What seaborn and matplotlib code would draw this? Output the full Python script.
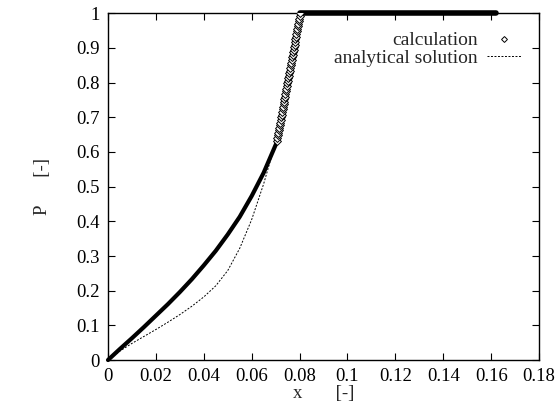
import matplotlib
matplotlib.use("Agg")
import matplotlib.pyplot as plt
import pandas as pd
import seaborn as sns
from matplotlib.lines import Line2D

# calculation: smooth rising part (dense points -> looks like a thick line)
calc_x = [0.0, 0.005, 0.010, 0.015, 0.020, 0.025, 0.030, 0.035, 0.040,
          0.045, 0.050, 0.055, 0.060, 0.065, 0.0703]
calc_p = [0.0, 0.032, 0.063, 0.095, 0.128, 0.161, 0.196, 0.233, 0.273,
          0.315, 0.362, 0.413, 0.473, 0.540, 0.625]

# calculation: steep part where single diamonds are visible
steep_x = [0.0705, 0.0707, 0.0709, 0.0711, 0.0713, 0.0715, 0.0717, 0.0719,
           0.0721, 0.0723, 0.0725, 0.0727, 0.0729, 0.0731, 0.0733, 0.0735,
           0.0737, 0.0739, 0.0741, 0.0743, 0.0745, 0.0747, 0.0749, 0.0751,
           0.0753, 0.0755, 0.0757, 0.0759, 0.0761, 0.0763, 0.0765, 0.0767,
           0.0769, 0.0771, 0.0773, 0.0775, 0.0777, 0.0779, 0.0781, 0.0783,
           0.0785, 0.0787, 0.0789, 0.0791, 0.0793, 0.0795, 0.0797, 0.0799,
           0.0801, 0.0803]
steep_p = [0.633, 0.640, 0.648, 0.655, 0.663, 0.670, 0.678, 0.685,
           0.693, 0.700, 0.708, 0.715, 0.723, 0.730, 0.738, 0.745,
           0.753, 0.760, 0.768, 0.775, 0.783, 0.790, 0.798, 0.805,
           0.813, 0.820, 0.828, 0.835, 0.843, 0.850, 0.858, 0.865,
           0.873, 0.880, 0.888, 0.895, 0.903, 0.910, 0.918, 0.925,
           0.933, 0.940, 0.948, 0.955, 0.963, 0.970, 0.978, 0.985,
           0.993, 1.000]

# calculation: saturated plateau
flat_x = [0.0803, 0.090, 0.100, 0.110, 0.120, 0.130, 0.140, 0.150, 0.162]
flat_p = [1.0, 1.0, 1.0, 1.0, 1.0, 1.0, 1.0, 1.0, 1.0]

# analytical solution
ana_x = [0.0, 0.005, 0.010, 0.015, 0.020, 0.025, 0.030, 0.035, 0.040,
         0.045, 0.050, 0.055, 0.060, 0.065, 0.070, 0.072, 0.076, 0.080, 0.162]
ana_p = [0.0, 0.026, 0.048, 0.068, 0.088, 0.109, 0.131, 0.155, 0.182,
         0.214, 0.258, 0.322, 0.405, 0.508, 0.627, 0.690, 0.845, 1.0, 1.0]

sns.set_style("ticks")
plt.rcParams['font.family'] = ['Liberation Serif', 'DejaVu Serif']

fig = plt.figure(figsize=(5.55, 4.08), dpi=100)
ax = fig.add_axes([0.1946, 0.1176, 0.7766, 0.8498])

df_ana = pd.DataFrame({'x': ana_x, 'P': ana_p})
df_calc = pd.DataFrame({'x': calc_x + steep_x, 'P': calc_p + steep_p})
df_steep = pd.DataFrame({'x': steep_x, 'P': steep_p})
df_flat = pd.DataFrame({'x': flat_x, 'P': flat_p})

sns.lineplot(data=df_ana, x='x', y='P', ax=ax, color='black', lw=0.7,
             sort=False, estimator=None, linestyle=(0, (2, 1.6)))
sns.lineplot(data=df_calc, x='x', y='P', ax=ax, color='black', lw=3,
             sort=False, estimator=None)
sns.scatterplot(data=df_steep, x='x', y='P', ax=ax, marker='D', s=16,
                facecolor='white', edgecolor='black', linewidth=0.7, zorder=5)
sns.lineplot(data=df_flat, x='x', y='P', ax=ax, color='black',
             lw=4, sort=False, estimator=None)
for ln in ax.lines:
    ln.set_clip_on(False)

ax.set_xlim(0, 0.18)
ax.set_ylim(0, 1)
ax.set_xticks([0, 0.02, 0.04, 0.06, 0.08, 0.1, 0.12, 0.14, 0.16, 0.18])
ax.set_xticklabels(['0', '0.02', '0.04', '0.06', '0.08', '0.1', '0.12',
                    '0.14', '0.16', '0.18'])
ax.set_yticks([0, 0.1, 0.2, 0.3, 0.4, 0.5, 0.6, 0.7, 0.8, 0.9, 1])
ax.set_yticklabels(['0', '0.1', '0.2', '0.3', '0.4', '0.5', '0.6', '0.7',
                    '0.8', '0.9', '1'])
ax.tick_params(direction='in', length=5, width=0.8, top=True, right=True,
               labelsize=13.5, pad=6, colors='black')
for sp in ax.spines.values():
    sp.set_visible(True)
    sp.set_linewidth(1.0)
    sp.set_color('black')

ax.set_xlabel('x       [-]', fontsize=13.5, labelpad=0)
ax.set_ylabel('P      [-]', fontsize=13.5, labelpad=18)

handles = [
    Line2D([], [], marker='D', linestyle='none', markersize=3,
           markerfacecolor='white', markeredgecolor='black',
           markeredgewidth=0.7),
    Line2D([], [], color='black', lw=0.7, linestyle=(0, (2, 1.6))),
]
ax.legend(handles, ['calculation', 'analytical solution'], loc='upper right',
          frameon=False, markerfirst=False, fontsize=14, handlelength=1.7,
          borderaxespad=0.65, borderpad=0.3, labelspacing=0.0,
          handletextpad=0.5)

fig.savefig('out.png', dpi=100)
